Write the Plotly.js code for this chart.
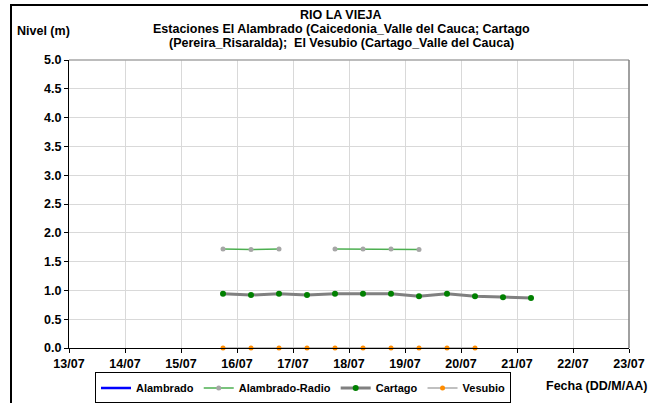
<!DOCTYPE html>
<html>
<head>
<meta charset="utf-8">
<script src="https://cdn.plot.ly/plotly-3.0.1.min.js"></script>
<style>
  html, body { margin:0; padding:0; background:#fff; }
  #wrap { position:relative; width:648px; height:403px; overflow:hidden; }
  #chart { width:648px; height:403px; }
  #frame { position:absolute; left:10px; top:4px; width:700px; height:500px;
           border-left:2px solid #000; border-top:2px solid #000; pointer-events:none; }
</style>
</head>
<body>
<div id="wrap">
  <div id="chart"></div>
  <div id="frame"></div>
</div>
<script>
// Dias (dia de julio con fraccion: .25 = 06:00, .75 = 18:00)
var diasCartago = [15.75, 16.25, 16.75, 17.25, 17.75, 18.25, 18.75, 19.25, 19.75, 20.25, 20.75, 21.25];
var nivelCartago = [0.94, 0.92, 0.94, 0.92, 0.94, 0.94, 0.94, 0.90, 0.94, 0.90, 0.88, 0.87];

var diasRadio = [15.75, 16.25, 16.75, 17.25, 17.75, 18.25, 18.75, 19.25];
var nivelRadio = [1.72, 1.71, 1.72, null, 1.72, 1.72, 1.72, 1.71];

var diasVesubio = [15.75, 16.25, 16.75, 17.25, 17.75, 18.25, 18.75, 19.25, 19.75, 20.25];
var nivelVesubio = [0, 0, 0, 0, 0, 0, 0, 0, 0, 0];

var tickDias = [13, 14, 15, 16, 17, 18, 19, 20, 21, 22, 23];
var tickFechas = ["13/07", "14/07", "15/07", "16/07", "17/07", "18/07", "19/07", "20/07", "21/07", "22/07", "23/07"];
var tickNivel = [0, 0.5, 1, 1.5, 2, 2.5, 3, 3.5, 4, 4.5, 5];
var tickNivelTxt = ["0.0", "0.5", "1.0", "1.5", "2.0", "2.5", "3.0", "3.5", "4.0", "4.5", "5.0"];

var titulo = ["RIO LA VIEJA",
              "Estaciones El Alambrado (Caicedonia_Valle del Cauca; Cartago",
              "(Pereira_Risaralda);  El Vesubio (Cartago_Valle del Cauca)"];

var F = "Liberation Sans, Arial, sans-serif";
var FS = 12.5;
var W = 560, H = 288.5;   // plot area in px
function px(x) { return (x - 69) / W; }
function py(y) { return (348.5 - y) / H; }

var traces = [
  {x:[null], y:[null], type:"scatter", mode:"lines", name:"<b>Alambrado</b>",
   line:{color:"#0000ff", width:2.5}},
  {x:diasRadio, y:nivelRadio, type:"scatter", mode:"lines+markers", name:"<b>Alambrado-Radio</b>",
   line:{color:"#4caf50", width:1.5}, marker:{color:"#a6a6a6", size:5}, connectgaps:false},
  {x:diasCartago, y:nivelCartago, type:"scatter", mode:"lines+markers", name:"<b>Cartago</b>",
   line:{color:"#808080", width:3}, marker:{color:"#008000", size:6}},
  {x:diasVesubio, y:nivelVesubio, type:"scatter", mode:"lines+markers", name:"<b>Vesubio</b>",
   line:{color:"#c0c0c0", width:2}, marker:{color:"#ff8c00", size:5}, cliponaxis:false}
];

var annots = titulo.map(function(t, i) {
  return {text:"<b>" + t + "</b>", xref:"paper", yref:"paper", x:px(341), y:py(15 + 14 * i),
          xanchor:"center", yanchor:"middle", showarrow:false, font:{family:F, size:FS, color:"#000"}};
});
annots.push({text:"<b>Nivel (m)</b>", xref:"paper", yref:"paper", x:px(43), y:py(31),
             xanchor:"center", yanchor:"middle", showarrow:false, font:{family:F, size:FS, color:"#000"}});
annots.push({text:"<b>Fecha (DD/M/AA)</b>", xref:"paper", yref:"paper", x:px(596), y:py(387),
             xanchor:"center", yanchor:"middle", showarrow:false, font:{family:F, size:FS, color:"#000"}});

var tickFont = {family:F, size:FS, color:"#000", weight:700};

var layout = {
  width:648, height:403,
  paper_bgcolor:"#fff", plot_bgcolor:"#fff",
  font:{family:F, size:FS, color:"#000"},
  margin:{l:69, r:19, t:60, b:54.5, autoexpand:false},
  xaxis:{range:[13, 23], tickvals:tickDias, ticktext:tickFechas,
         showgrid:true, gridcolor:"#d9d9d9", gridwidth:1, zeroline:false,
         showline:true, linecolor:"#000", linewidth:1,
         ticks:"outside", ticklen:4, tickcolor:"#000", tickfont:tickFont},
  yaxis:{range:[0, 5], tickvals:tickNivel, ticktext:tickNivelTxt,
         showgrid:true, gridcolor:"#d9d9d9", gridwidth:1, zeroline:false,
         showline:true, linecolor:"#000", linewidth:1,
         ticks:"outside", ticklen:4, tickcolor:"#000", tickfont:tickFont},
  showlegend:true,
  legend:{orientation:"h", x:px(95), xanchor:"left", y:py(373), yanchor:"top",
          bordercolor:"#000", borderwidth:1, bgcolor:"#fff",
          font:{family:F, size:11, color:"#000"}, itemwidth:30, tracegroupgap:0},
  shapes:[
    {type:"line", xref:"paper", yref:"paper", x0:0, x1:1, y0:1, y1:1, line:{color:"#a6a6a6", width:1.5}},
    {type:"line", xref:"paper", yref:"paper", x0:1, x1:1, y0:0, y1:1, line:{color:"#808080", width:1.5}}
  ],
  annotations:annots
};

Plotly.newPlot("chart", traces, layout, {displayModeBar:false, staticPlot:true});
</script>
</body>
</html>
